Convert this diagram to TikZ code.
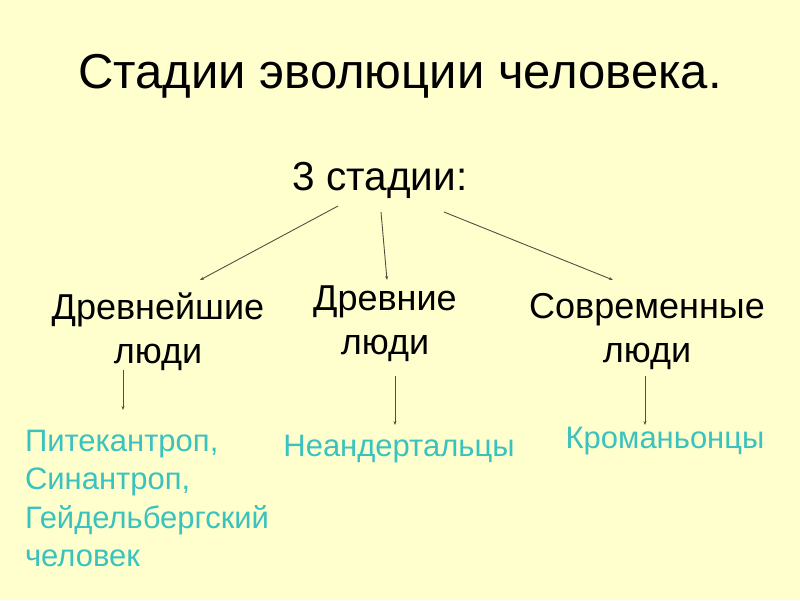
\documentclass[tikz,border=0pt]{standalone}
\usepackage{fontspec}
\setmainfont{Liberation Sans}
\usetikzlibrary{arrows.meta}
\definecolor{bg}{RGB}{255,255,206}
\definecolor{teal1}{RGB}{58,194,190}
\definecolor{linec}{RGB}{80,80,65}
\begin{document}
\begin{tikzpicture}[x=1pt,y=-1pt,
  every node/.style={inner sep=0pt,outer sep=0pt},
  title/.style={font=\fontsize{49}{56}\selectfont},
  sub/.style={font=\fontsize{40.5}{46}\selectfont},
  stage/.style={font=\fontsize{36}{44}\selectfont,align=center},
  kind/.style={font=\fontsize{31}{38.5}\selectfont,text=teal1,align=left},
  conn/.style={draw=linec,line width=0.9pt,-{Stealth[length=4pt,width=3pt]}}]
\fill[bg] (0,0) rectangle (800,600);
\useasboundingbox (0,0) rectangle (800,600);
\node[title] (t) at (400,76) {Стадии эволюции человека.};
\node[sub] (s) at (380,180) {3 стадии:};
\node[stage] (a) at (158,332) {Древнейшие\\люди};
\node[stage] (b) at (385,324) {Древние\\люди};
\node[stage] (c) at (647,332) {Современные\\люди};
\coordinate (s1) at (338,206);
\coordinate (s2) at (381,212);
\coordinate (s3) at (444,212);
\coordinate (a0) at (200,280);
\coordinate (b0) at (387,280);
\coordinate (c0) at (613,280);
\draw[conn] (s1) -- (a0);
\draw[conn] (s2) -- (b0);
\draw[conn] (s3) -- (c0);
\node[kind,anchor=north west] (k1) at (25,430) {Питекантроп,\\Синантроп,\\Гейдельбергский\\человек};
\node[kind] (k2) at (399,449) {Неандертальцы};
\node[kind] (k3) at (665,441) {Кроманьонцы};
\coordinate (a1) at (123,370);
\coordinate (a2) at (123,410);
\coordinate (b1) at (395,376);
\coordinate (b2) at (395,425);
\coordinate (c1) at (645,376);
\coordinate (c2) at (645,425);
\draw[conn] (a1) -- (a2);
\draw[conn] (b1) -- (b2);
\draw[conn] (c1) -- (c2);
\end{tikzpicture}
\end{document}
